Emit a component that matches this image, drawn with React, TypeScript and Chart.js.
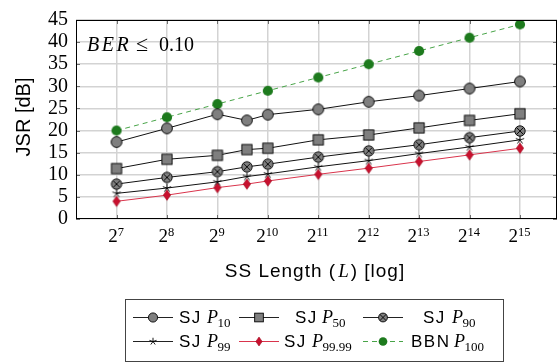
import React, { useEffect, useRef } from "react";
import { Chart, registerables } from "chart.js";

Chart.register(...registerables);

// ---- data ----
const ssLengths = [128, 256, 512, 768, 1024, 2048, 4096, 8192, 16384, 32768];
const bbnLengths = [128, 256, 512, 1024, 2048, 4096, 8192, 16384, 32768];
const sjP10 = [17.4, 20.5, 23.7, 22.3, 23.6, 24.8, 26.5, 27.9, 29.5, 31.1];
const sjP50 = [11.4, 13.5, 14.4, 15.7, 16.0, 17.9, 19.0, 20.6, 22.3, 23.8];
const sjP90 = [7.9, 9.4, 10.7, 11.8, 12.4, 14.0, 15.4, 16.8, 18.4, 19.9];
const sjP99 = [5.8, 7.0, 8.4, 9.6, 10.2, 11.8, 13.2, 14.8, 16.3, 17.9];
const sjP9999 = [4.0, 5.4, 7.1, 7.9, 8.6, 10.1, 11.5, 13.0, 14.5, 16.0];
const bbnP100 = [20, 23, 26, 29, 32, 35, 38, 41, 44];
const xTickExponents = [7, 8, 9, 10, 11, 12, 13, 14, 15];
const yTickStep = 5;
const yMax = 45;

const seriesNames = ["SJ", "SJ", "SJ", "SJ", "SJ", "BBN"];
const seriesSubs = ["10", "50", "90", "99", "99.99", "100"];

// ---- styles ----
const SERIF = '"Liberation Serif", "Times New Roman", serif';
const SANS = '"Liberation Sans", Arial, sans-serif';
const GREY = "#7f7f7f";
const RED = "#c8102e";
const RED_LINE = "#d9344c";
const GREEN = "#1d7a1d";
const GREEN_LINE = "#48a448";
const GRID = "#d3d3d3";

Chart.defaults.font.family = SERIF;

type Kind = "circle" | "square" | "otimes" | "star" | "diamond" | "dot";

function drawMarker(ctx: CanvasRenderingContext2D, kind: Kind, x: number, y: number, s = 1) {
  ctx.save();
  ctx.setLineDash([]);
  ctx.lineWidth = 0.9;
  ctx.strokeStyle = "#000";
  if (kind === "circle" || kind === "otimes") {
    const r = (kind === "circle" ? 5.4 : 5.2) * s;
    ctx.beginPath();
    ctx.arc(x, y, r, 0, Math.PI * 2);
    ctx.fillStyle = GREY;
    ctx.fill();
    ctx.stroke();
    if (kind === "otimes") {
      const d = r * 0.68;
      ctx.beginPath();
      ctx.moveTo(x - d, y - d);
      ctx.lineTo(x + d, y + d);
      ctx.moveTo(x - d, y + d);
      ctx.lineTo(x + d, y - d);
      ctx.stroke();
    }
  } else if (kind === "square") {
    const h = 5.1 * s;
    ctx.fillStyle = GREY;
    ctx.fillRect(x - h, y - h, 2 * h, 2 * h);
    ctx.strokeRect(x - h, y - h, 2 * h, 2 * h);
  } else if (kind === "star") {
    const r = 4.4 * s;
    ctx.beginPath();
    for (let i = 0; i < 5; i++) {
      const a = -Math.PI / 2 + (i * 2 * Math.PI) / 5;
      ctx.moveTo(x, y);
      ctx.lineTo(x + r * Math.cos(a), y + r * Math.sin(a));
    }
    ctx.stroke();
  } else if (kind === "diamond") {
    const w = 3.7 * s;
    const h = 5.3 * s;
    ctx.beginPath();
    ctx.moveTo(x, y - h);
    ctx.lineTo(x + w, y);
    ctx.lineTo(x, y + h);
    ctx.lineTo(x - w, y);
    ctx.closePath();
    ctx.fillStyle = RED;
    ctx.fill();
    ctx.strokeStyle = "#a00d22";
    ctx.lineWidth = 0.6;
    ctx.stroke();
  } else if (kind === "dot") {
    ctx.beginPath();
    ctx.arc(x, y, 5.1 * s, 0, Math.PI * 2);
    ctx.fillStyle = GREEN;
    ctx.fill();
  }
  ctx.restore();
}

function markerCanvas(kind: Kind): HTMLCanvasElement {
  const c = document.createElement("canvas");
  c.width = 16;
  c.height = 16;
  const ctx = c.getContext("2d")!;
  drawMarker(ctx, kind, 8, 8);
  return c;
}

const legendEntries: { kind: Kind; line: string; dash: number[]; lx: number; tx: number; px: number; row: number }[] = [
  { kind: "circle", line: "#222", dash: [], lx: 133, tx: 179, px: 207, row: 0 },
  { kind: "square", line: "#222", dash: [], lx: 239, tx: 295, px: 322, row: 0 },
  { kind: "otimes", line: "#222", dash: [], lx: 363, tx: 423, px: 452, row: 0 },
  { kind: "star", line: "#222", dash: [], lx: 133, tx: 179, px: 207, row: 1 },
  { kind: "diamond", line: RED_LINE, dash: [], lx: 239, tx: 284, px: 312, row: 1 },
  { kind: "dot", line: GREEN_LINE, dash: [5, 4], lx: 363, tx: 411, px: 454, row: 1 },
];

const decorPlugin = {
  id: "decor",
  beforeDatasetsDraw(chart: any) {
    const { ctx, chartArea, scales } = chart;
    const { left, right, top, bottom } = chartArea;
    ctx.save();
    ctx.strokeStyle = "#6e6e6e";
    ctx.lineWidth = 1;
    ctx.beginPath();
    xTickExponents.forEach((e) => {
      const px = Math.round(scales.x.getPixelForValue(2 ** e)) + 0.5;
      ctx.moveTo(px, top);
      ctx.lineTo(px, top + 4);
      ctx.moveTo(px, bottom - 4);
      ctx.lineTo(px, bottom);
    });
    scales.y.ticks.forEach((t: any) => {
      const py = Math.round(scales.y.getPixelForValue(t.value)) + 0.5;
      ctx.moveTo(left, py);
      ctx.lineTo(left + 4, py);
      ctx.moveTo(right - 4, py);
      ctx.lineTo(right, py);
    });
    ctx.stroke();
    ctx.restore();
  },
  afterDraw(chart: any) {
    const { ctx, chartArea, scales } = chart;
    const { left, right, top, bottom } = chartArea;
    ctx.save();
    // frame
    ctx.strokeStyle = "#000";
    ctx.lineWidth = 1;
    ctx.strokeRect(left + 0.5, top + 0.5, right - left - 1, bottom - top - 1);

    // x tick labels 2^n
    ctx.fillStyle = "#000";
    ctx.textBaseline = "alphabetic";
    ctx.textAlign = "left";
    xTickExponents.forEach((e) => {
      const px = scales.x.getPixelForValue(2 ** e);
      ctx.font = `19px ${SERIF}`;
      const wb = ctx.measureText("2").width;
      ctx.font = `12.5px ${SERIF}`;
      const we = ctx.measureText(String(e)).width;
      const x0 = px - (wb + we) / 2 - 0.5;
      ctx.font = `19px ${SERIF}`;
      ctx.fillText("2", x0, 242);
      ctx.font = `12.5px ${SERIF}`;
      ctx.fillText(String(e), x0 + wb, 236);
    });

    // x title
    {
      const parts: [string, string, string][] = [
        ["SS Length (", `19px ${SANS}`, "1px"],
        ["L", `italic 19px ${SERIF}`, "0px"],
        [") [log]", `19px ${SANS}`, "1px"],
      ];
      let total = 0;
      const ws: number[] = [];
      parts.forEach(([t, f, ls]) => {
        ctx.font = f;
        (ctx as any).letterSpacing = ls;
        const w = ctx.measureText(t).width;
        ws.push(w);
        total += w + 2;
      });
      let x = 316 - total / 2;
      parts.forEach(([t, f, ls], i) => {
        ctx.font = f;
        (ctx as any).letterSpacing = ls;
        ctx.fillText(t, x, 277);
        x += ws[i] + 2;
      });
      (ctx as any).letterSpacing = "0px";
    }

    // y title
    ctx.save();
    ctx.translate(30, 117);
    ctx.rotate(-Math.PI / 2);
    ctx.font = `20px ${SANS}`;
    ctx.textAlign = "center";
    ctx.fillText("JSR [dB]", 0, 0);
    ctx.restore();

    // annotation
    ctx.textAlign = "left";
    ctx.font = `italic 20px ${SERIF}`;
    (ctx as any).letterSpacing = "2.5px";
    ctx.fillText("BER", 87, 51);
    (ctx as any).letterSpacing = "0px";
    ctx.font = `22px ${SERIF}`;
    ctx.fillText("\u2264", 136, 51);
    ctx.font = `20px ${SERIF}`;
    ctx.fillText("0.10", 159, 51);

    // legend
    ctx.strokeStyle = "#444";
    ctx.lineWidth = 1;
    ctx.strokeRect(125.5, 299.5, 378, 62);
    legendEntries.forEach((en, i) => {
      const ly = en.row === 0 ? 317.5 : 341.5;
      const by = en.row === 0 ? 323 : 346.5;
      ctx.save();
      ctx.strokeStyle = en.line;
      ctx.lineWidth = 1;
      ctx.setLineDash(en.dash);
      ctx.beginPath();
      ctx.moveTo(en.lx, ly);
      ctx.lineTo(en.lx + 40, ly);
      ctx.stroke();
      ctx.restore();
      drawMarker(ctx, en.kind, en.lx + 20, ly, 0.85);
      ctx.fillStyle = "#000";
      ctx.font = `17px ${SANS}`;
      (ctx as any).letterSpacing = "1.5px";
      ctx.fillText(seriesNames[i], en.tx, by);
      (ctx as any).letterSpacing = "0px";
      ctx.font = `italic 18px ${SERIF}`;
      ctx.fillText("P", en.px, by);
      const pw = ctx.measureText("P").width;
      ctx.font = `13px ${SERIF}`;
      ctx.fillText(seriesSubs[i], en.px + pw - 0.5, by + 4);
    });
    ctx.restore();
  },
};

export default function App() {
  const ref = useRef<HTMLCanvasElement | null>(null);
  useEffect(() => {
    if (!ref.current) return;
    const mk = (xs: number[], ys: number[]) => xs.map((x, i) => ({ x, y: ys[i] }));
    const chart = new Chart(ref.current, {
      type: "line",
      data: {
        datasets: [
          { label: "SJ P10", data: mk(ssLengths, sjP10), borderColor: "#111", borderWidth: 1, pointStyle: markerCanvas("circle") as any, pointRadius: 5 },
          { label: "SJ P50", data: mk(ssLengths, sjP50), borderColor: "#111", borderWidth: 1, pointStyle: markerCanvas("square") as any, pointRadius: 5 },
          { label: "SJ P90", data: mk(ssLengths, sjP90), borderColor: "#111", borderWidth: 1, pointStyle: markerCanvas("otimes") as any, pointRadius: 5 },
          { label: "SJ P99", data: mk(ssLengths, sjP99), borderColor: "#111", borderWidth: 1, pointStyle: markerCanvas("star") as any, pointRadius: 5 },
          { label: "SJ P99.99", data: mk(ssLengths, sjP9999), borderColor: RED_LINE, borderWidth: 1, pointStyle: markerCanvas("diamond") as any, pointRadius: 5 },
          { label: "BBN P100", data: mk(bbnLengths, bbnP100), borderColor: GREEN_LINE, borderWidth: 1, borderDash: [5, 4], pointStyle: markerCanvas("dot") as any, pointRadius: 5 },
        ],
      },
      options: {
        animation: false,
        responsive: false,
        devicePixelRatio: 1,
        layout: { padding: { top: 15, right: 1, left: 0, bottom: 0 }, autoPadding: false },
        plugins: { legend: { display: false }, tooltip: { enabled: false } },
        elements: { line: { tension: 0 } },
        scales: {
          x: {
            type: "logarithmic",
            min: 2 ** 6.196,
            max: 2 ** 15.734,
            ticks: { display: false },
            grid: { color: GRID, lineWidth: 1.5, drawTicks: false },
            border: { display: false },
            afterBuildTicks: (s: any) => {
              s.ticks = xTickExponents.map((e) => ({ value: 2 ** e }));
            },
            afterFit: (s: any) => {
              s.height = 144;
            },
          },
          y: {
            min: 0,
            max: yMax,
            ticks: {
              stepSize: yTickStep,
              autoSkip: false,
              color: "#000",
              font: { family: SERIF, size: 20 },
              padding: 8,
            },
            grid: { color: GRID, lineWidth: 1.5, drawTicks: false },
            border: { display: false },
            afterFit: (s: any) => {
              s.width = 76;
            },
          },
        },
      } as any,
      plugins: [decorPlugin],
    });
    return () => chart.destroy();
  }, []);
  return (
    <canvas
      ref={ref}
      width={558}
      height={363}
      style={{ position: "absolute", left: 0, top: 0, width: 558, height: 363, display: "block" }}
    />
  );
}
